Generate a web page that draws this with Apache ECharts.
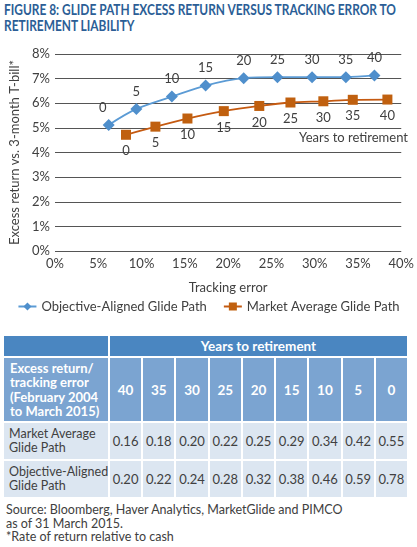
<!DOCTYPE html>
<html>
<head>
<meta charset="utf-8">
<script src="https://cdn.jsdelivr.net/npm/echarts@6/dist/echarts.min.js"></script>
<style>
  html, body { margin: 0; padding: 0; background: #fff; }
  body { width: 417px; height: 547px; position: relative; overflow: hidden; font-family: Lato, sans-serif; }
  #title { position: absolute; left: 4px; top: 1px; color: #2b5e96; font-weight: bold; white-space: nowrap;
           font-family: Lato, sans-serif; font-size: 15px; line-height: 16px; transform-origin: 0 0; }
  #chart { position: absolute; left: 0; top: 36px; width: 417px; height: 288px; }
  #tbl { position: absolute; left: 2px; top: 334px; border-collapse: collapse; table-layout: fixed; width: 407px; }
  #tbl td { border: 2px solid #fff; padding: 0; text-align: center; font-size: 13px; color: #404040; overflow: hidden; white-space: nowrap; }
  #tbl .h1 { background: #4a86c1; color: #fff; font-weight: bold; font-size: 13.5px; height: 20px; }
  #tbl .h2 { background: #7ba4d1; color: #fff; font-weight: bold; font-size: 13.5px; height: 63px; }
  #tbl .h2.lbl { text-align: left; padding-left: 6px; line-height: 14.5px; font-size: 13px; }
  #tbl .d { background: #dce6f1; height: 36px; }
  #tbl .d.lbl { text-align: left; padding-left: 5px; line-height: 14.5px; font-size: 12.5px; }
  #src { position: absolute; left: 6px; top: 503px; font-size: 12.5px; line-height: 13.5px; color: #404040; }
</style>
</head>
<body>
<div id="title">FIGURE 8: GLIDE PATH EXCESS RETURN VERSUS TRACKING ERROR TO<br>RETIREMENT LIABILITY</div>
<div id="chart"></div>
<table id="tbl"></table>
<div id="src">Source: Bloomberg, Haver Analytics, MarketGlide and PIMCO<br>as of 31 March 2015.<br>*Rate of return relative to cash</div>
<script>
// years to retirement for each point on the curves
var years = [0, 5, 10, 15, 20, 25, 30, 35, 40];

// Objective-Aligned Glide Path (tracking error %, excess return %)
var objTE = [6.2, 9.4, 13.5, 17.4, 21.8, 25.7, 29.7, 33.6, 36.9];
var objRet = [5.12, 5.77, 6.27, 6.72, 7.02, 7.06, 7.06, 7.06, 7.13];

// Market Average Glide Path
var mktTE = [8.2, 11.6, 15.3, 19.5, 23.6, 27.2, 31.0, 34.4, 38.4];
var mktRet = [4.72, 5.05, 5.38, 5.68, 5.89, 6.03, 6.08, 6.14, 6.15];

// table below the chart
var tableYears = [40, 35, 30, 25, 20, 15, 10, 5, 0];
var mktRatio = ['0.16', '0.18', '0.20', '0.22', '0.25', '0.29', '0.34', '0.42', '0.55'];
var objRatio = ['0.20', '0.22', '0.24', '0.28', '0.32', '0.38', '0.46', '0.59', '0.78'];

var textColor = '#404040';
var fontFam = 'Lato, sans-serif';

// squeeze the title so its first line fits like the condensed original
var title = document.getElementById('title');
var sx = 392 / title.getBoundingClientRect().width;
title.style.transform = 'scaleX(' + Math.min(1, sx) + ')';

function makePoints(te, ret, firstOffset) {
    return te.map(function(x, i) {
        var p = { value: [x, ret[i]], name: String(years[i]) };
        if (i === 0 && firstOffset) {
            p.label = { offset: firstOffset };
        }
        return p;
    });
}

var chart = echarts.init(document.getElementById('chart'));

chart.setOption({
    animation: false,
    textStyle: { fontFamily: fontFam },
    grid: { left: 48, right: 14, top: 18, height: 197 },
    xAxis: {
        type: 'value', min: 0, max: 40, interval: 5,
        name: 'Tracking error', nameLocation: 'middle', nameGap: 30,
        nameTextStyle: { color: textColor, fontSize: 13, fontFamily: fontFam },
        axisLine: { show: false }, axisTick: { show: false },
        splitLine: { show: false },
        axisLabel: { formatter: '{value}%', color: textColor, fontSize: 13, margin: 6, fontFamily: fontFam }
    },
    yAxis: {
        type: 'value', min: 0, max: 8, interval: 1,
        name: 'Excess return vs. 3-month T-bill*', nameLocation: 'middle', nameGap: 34,
        nameTextStyle: { color: textColor, fontSize: 13, fontFamily: fontFam },
        axisLine: { show: false }, axisTick: { show: false },
        splitLine: { lineStyle: { color: '#555', width: 1 } },
        axisLabel: { formatter: '{value}%', color: textColor, fontSize: 13, margin: 5, fontFamily: fontFam }
    },
    legend: {
        bottom: 6, left: 'center', itemGap: 16, itemWidth: 18, itemHeight: 10,
        textStyle: { color: textColor, fontSize: 13, fontFamily: fontFam },
        data: ['Objective-Aligned Glide Path', 'Market Average Glide Path']
    },
    graphic: [{
        type: 'text', right: 9, top: 95,
        style: { text: 'Years to retirement', fill: textColor, font: '13px ' + fontFam }
    }],
    series: [{
        name: 'Objective-Aligned Glide Path',
        type: 'line', smooth: 0.3,
        symbol: 'diamond', symbolSize: 12,
        itemStyle: { color: '#4f8fcc' },
        lineStyle: { color: '#5b9bd5', width: 1.8 },
        label: {
            show: true, position: 'top', distance: 5,
            color: textColor, fontSize: 13, fontFamily: fontFam,
            formatter: function(p) { return p.name; }
        },
        data: makePoints(objTE, objRet, [-6, 0])
    }, {
        name: 'Market Average Glide Path',
        type: 'line', smooth: 0.3,
        symbol: 'rect', symbolSize: 10,
        itemStyle: { color: '#c0600f' },
        lineStyle: { color: '#c55a11', width: 1.8 },
        label: {
            show: true, position: 'bottom', distance: 5,
            color: textColor, fontSize: 13, fontFamily: fontFam,
            formatter: function(p) { return p.name; }
        },
        data: makePoints(mktTE, mktRet, null)
    }]
});

// build table from arrays
var tbl = document.getElementById('tbl');
var html = '<colgroup><col style="width:106px">';
tableYears.forEach(function() { html += '<col>'; });
html += '</colgroup>';
html += '<tr><td class="h1"></td><td class="h1" colspan="' + tableYears.length + '">Years to retirement</td></tr>';
html += '<tr><td class="h2 lbl">Excess return/<br>tracking error<br>(February 2004<br>to March 2015)</td>';
tableYears.forEach(function(y) { html += '<td class="h2">' + y + '</td>'; });
html += '</tr>';
html += '<tr><td class="d lbl">Market Average<br>Glide Path</td>';
mktRatio.forEach(function(v) { html += '<td class="d">' + v + '</td>'; });
html += '</tr>';
html += '<tr><td class="d lbl">Objective-Aligned<br>Glide Path</td>';
objRatio.forEach(function(v) { html += '<td class="d">' + v + '</td>'; });
html += '</tr>';
tbl.innerHTML = html;
</script>
</body>
</html>
